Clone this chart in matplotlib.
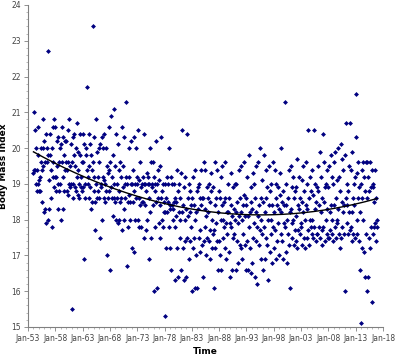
"""
Scatter of monthly Body Mass Index values over time with a quadratic trend line.
"""

import matplotlib

matplotlib.use("Agg")

import matplotlib.dates as mdates
import matplotlib.pyplot as plt
import numpy as np
import pandas as pd

# Monthly BMI values, one row per year (Jan..Dec).
bmi_1950s = [
    19.3, 19.4, 21.0, 20.5, 19.4, 19.0, 20.0, 19.4, 18.8, 19.0, 20.6, 19.8,  # 1954
    19.1, 18.8, 18.8, 19.2, 20.0, 19.6, 18.5, 19.4, 20.8, 20.0, 19.5, 18.2,  # 1955
    20.2, 19.6, 18.3, 17.9, 20.4, 19.6, 20.0, 18.0, 19.8, 22.7, 19.1, 18.3,  # 1956
    19.8, 20.4, 18.6, 19.4, 17.8, 20.0, 20.6, 19.2, 19.6, 18.9, 20.8, 19.2,  # 1957
    20.6, 19.2, 18.8, 19.5, 20.2, 18.3, 19.0, 20.3, 19.6, 18.8, 20.0, 19.0,  # 1958
    20.1, 18.0, 19.6, 20.6, 19.2, 18.3, 20.3, 19.8, 18.8, 19.4, 20.2, 19.6,  # 1959
]
bmi_1960s = [
    20.2, 19.4, 18.8, 20.5, 19.6, 18.7, 19.0, 20.8, 19.5, 18.9, 20.1, 19.0,
    15.5, 19.6, 20.3, 19.0, 18.6, 20.4, 19.8, 18.9, 19.5, 20.0, 18.8, 19.2,
    20.7, 19.4, 18.7, 19.9, 19.0, 18.6, 19.8, 20.4, 18.9, 19.2, 19.6, 18.8,
    20.4, 19.6, 18.9, 16.9, 20.1, 19.0, 18.6, 19.8, 20.0, 21.7, 19.4, 19.2,
    19.0, 20.4, 18.6, 19.5, 18.9, 20.1, 18.3, 19.8, 19.4, 18.5, 23.4, 19.6,
    20.3, 18.8, 19.2, 17.7, 18.5, 20.8, 19.0, 18.6, 19.9, 19.2, 18.8, 20.0,
    19.6, 18.6, 20.1, 17.5, 19.0, 18.9, 20.3, 18.0, 19.2, 20.0, 18.6, 19.1,
    20.4, 18.5, 19.0, 18.8, 20.0, 17.0, 19.5, 18.6, 19.3, 20.6, 18.8, 19.4,
    16.6, 19.6, 18.9, 20.9, 18.6, 19.2, 18.1, 19.8, 18.6, 21.1, 19.0, 18.5,
    19.5, 18.0, 20.4, 18.6, 19.0, 17.9, 20.1, 18.8, 19.4, 18.0, 19.6, 18.5,
]
bmi_1970s = [
    19.2, 18.6, 20.6, 17.7, 18.9, 19.5, 18.3, 20.3, 18.0, 19.0, 18.6, 19.2,
    21.3, 16.7, 19.0, 18.5, 17.8, 20.0, 18.7, 19.2, 18.0, 18.5, 20.2, 19.0,
    19.0, 17.2, 18.5, 19.4, 17.1, 20.3, 18.8, 19.0, 18.0, 18.6, 20.0, 19.2,
    19.0, 18.0, 20.5, 18.6, 19.1, 17.8, 18.4, 19.6, 18.9, 17.8, 19.0, 18.5,
    18.5, 19.2, 17.5, 19.0, 20.4, 18.4, 19.0, 18.8, 17.7, 19.3, 18.0, 19.0,
    19.2, 16.9, 19.0, 18.6, 20.0, 18.2, 19.6, 17.5, 19.0, 18.9, 18.4, 19.6,
    16.0, 19.2, 18.8, 19.0, 17.8, 20.2, 18.5, 19.0, 16.1, 18.6, 19.4, 17.9,
    19.1, 18.4, 17.5, 19.5, 18.6, 20.3, 18.0, 18.8, 17.8, 19.0, 18.5, 18.2,
    18.2, 19.0, 15.3, 18.6, 17.2, 19.2, 18.2, 18.5, 19.0, 17.8, 20.0, 18.4,
    17.2, 18.3, 19.2, 16.6, 18.4, 19.0, 18.0, 18.3, 19.0, 18.5, 17.8, 18.6,
]
bmi_1980s = [
    16.3, 18.5, 18.1, 19.4, 17.2, 16.4, 18.8, 19.0, 18.2, 18.0, 17.5, 18.6,
    16.6, 19.3, 18.2, 20.5, 17.2, 18.4, 16.3, 18.9, 18.0, 17.4, 19.2, 18.3,
    16.4, 20.4, 17.5, 18.6, 18.1, 16.9, 19.0, 18.2, 17.4, 18.8, 18.4, 17.8,
    18.6, 16.0, 17.2, 19.2, 18.4, 17.5, 18.0, 16.1, 19.4, 18.2, 17.0, 18.8,
    16.1, 18.9, 18.3, 17.5, 19.0, 17.7, 18.6, 17.1, 18.4, 19.4, 17.3, 18.6,
    16.4, 18.6, 19.6, 17.4, 18.3, 17.8, 19.4, 18.1, 17.0, 18.9, 17.5, 18.6,
    18.2, 17.4, 19.0, 16.9, 18.5, 17.7, 18.8, 19.3, 17.2, 18.0, 17.6, 18.9,
    16.1, 17.7, 18.4, 19.6, 17.2, 18.6, 17.9, 19.4, 17.4, 18.2, 16.6, 18.8,
    17.4, 18.6, 17.0, 19.2, 18.0, 16.6, 18.4, 19.5, 17.5, 18.0, 17.8, 18.5,
    18.6, 17.2, 19.6, 17.9, 16.9, 18.2, 17.6, 19.0, 18.2, 17.1, 18.6, 17.9,
]
bmi_1990s = [
    16.4, 18.4, 17.8, 19.3, 16.6, 18.1, 17.5, 18.9, 18.3, 17.6, 19.0, 18.0,
    16.6, 18.2, 19.0, 17.4, 18.5, 16.8, 17.9, 19.4, 18.1, 17.3, 18.6, 18.2,
    17.2, 19.5, 18.0, 16.9, 18.4, 17.6, 18.7, 19.6, 17.3, 18.1, 16.6, 18.4,
    18.6, 17.4, 19.2, 16.6, 18.1, 17.8, 19.8, 18.2, 17.2, 18.5, 16.5, 18.9,
    16.8, 18.3, 19.3, 17.5, 17.9, 19.0, 16.4, 18.6, 17.4, 18.2, 19.5, 17.8,
    16.2, 18.1, 19.6, 17.3, 18.4, 20.0, 17.7, 18.6, 16.9, 18.0, 19.1, 17.6,
    16.6, 18.5, 19.8, 17.8, 16.9, 18.2, 19.4, 17.5, 18.6, 18.9, 17.3, 18.0,
    16.3, 18.4, 19.5, 17.1, 18.8, 17.6, 19.0, 18.0, 16.8, 18.4, 19.6, 17.8,
    18.2, 17.2, 19.4, 17.7, 18.6, 16.9, 19.0, 18.4, 17.4, 18.9, 17.9, 18.3,
    17.0, 18.7, 19.3, 17.6, 18.2, 20.0, 17.4, 18.5, 16.9, 18.8, 17.9, 18.4,
]
bmi_2000s = [
    21.3, 17.8, 18.4, 17.1, 19.0, 18.0, 16.8, 18.6, 17.6, 19.4, 17.3, 18.2,
    16.1, 18.3, 19.5, 17.5, 18.9, 17.9, 19.2, 18.0, 17.3, 18.6, 17.7, 18.8,
    17.4, 18.9, 18.1, 19.7, 17.2, 18.4, 17.7, 19.2, 18.3, 17.6, 18.6, 17.9,
    17.8, 19.1, 18.5, 17.3, 19.5, 18.2, 17.5, 18.8, 18.0, 17.2, 19.6, 18.4,
    17.5, 19.0, 18.3, 20.5, 17.7, 18.6, 17.3, 19.2, 18.0, 17.8, 18.8, 17.6,
    18.0, 19.4, 17.5, 18.7, 20.5, 17.8, 18.3, 19.0, 17.4, 18.5, 17.6, 18.9,
    17.6, 18.8, 19.5, 17.8, 18.4, 19.9, 17.5, 18.2, 19.2, 17.7, 18.6, 17.3,
    20.4, 17.8, 18.5, 19.6, 17.4, 18.9, 18.0, 19.0, 17.6, 18.3, 19.4, 17.5,
    18.9, 17.5, 19.5, 18.2, 17.7, 19.8, 18.4, 17.6, 19.2, 18.0, 17.4, 19.0,
    19.6, 18.4, 17.8, 19.9, 18.6, 17.5, 19.1, 18.0, 17.9, 20.0, 18.3, 17.6,
]
bmi_2010s = [
    19.2, 17.2, 18.8, 20.1, 17.5, 18.5, 19.7, 17.8, 18.2, 19.4, 17.6, 18.4,
    16.0, 19.8, 18.6, 20.7, 17.9, 18.4, 19.0, 17.6, 18.8, 19.5, 18.2, 17.7,
    20.7, 17.8, 19.4, 18.2, 17.4, 19.9, 18.6, 17.6, 19.0, 18.4, 17.5, 19.2,
    21.5, 20.3, 18.0, 19.3, 17.6, 18.6, 19.6, 17.4, 18.9, 16.6, 18.2, 19.0,
    15.1, 19.4, 18.6, 17.2, 19.6, 18.0, 17.1, 19.2, 16.4, 18.8, 19.6, 17.6,
    16.0, 19.6, 18.6, 16.4, 19.2, 17.5, 18.8, 19.6, 17.2, 18.9, 17.8, 19.4,
    15.7, 18.9, 17.6, 19.0, 17.8, 18.5, 19.4, 17.9, 18.6, 17.4, 18.0, 17.8,
]
first_month = "1954-01-01"
tick_years = list(range(1953, 2019, 5))

bmi = np.array(bmi_1950s + bmi_1960s + bmi_1970s + bmi_1980s
               + bmi_1990s + bmi_2000s + bmi_2010s)
dates = pd.date_range(first_month, periods=len(bmi), freq="MS")

# quadratic trend fitted in decimal years
years = dates.year + (dates.month - 1) / 12.0
coef = np.polyfit(years, bmi, 2)
fit_years = np.linspace(years.min(), years.max(), 200)
fit_dates = pd.to_datetime(first_month) + pd.to_timedelta(
    (fit_years - years.min()) * 365.25, unit="D")
fit_vals = np.polyval(coef, fit_years)

plt.rcParams["font.family"] = ["DejaVu Sans"]

fig = plt.figure(figsize=(4, 3.55), dpi=100)
ax = fig.add_axes([0.07, 0.079, 0.8875, 0.907])

ax.plot(dates, bmi, linestyle="none", marker="D", markersize=2.5,
        color="#000080", markeredgewidth=0)
ax.plot(fit_dates, fit_vals, color="black", linewidth=1.0)

ax.set_xlim(pd.Timestamp("1953-01-01"), pd.Timestamp("2018-01-01"))
ax.set_ylim(15, 24)

ax.set_xticks([pd.Timestamp(f"{y}-01-01") for y in tick_years])
ax.xaxis.set_minor_locator(mdates.YearLocator(1))
ax.xaxis.set_major_formatter(mdates.DateFormatter("%b-%y"))
ax.set_yticks(np.arange(15, 25, 1))
ax.yaxis.set_minor_locator(plt.MultipleLocator(0.2))

for side in ("top", "right"):
    ax.spines[side].set_visible(False)
for side in ("left", "bottom"):
    ax.spines[side].set_color("#808080")
    ax.spines[side].set_linewidth(0.8)

ax.tick_params(which="major", length=3, width=0.6, color="#808080",
               labelsize=5.5, labelcolor="#444444", pad=2)
ax.tick_params(which="minor", length=1.5, width=0.5, color="#a0a0a0")

ax.set_xlabel("Time", fontsize=6.5, fontweight="bold", labelpad=3)
ax.set_ylabel("Body Mass Index", fontsize=6.5, fontweight="bold")
ax.yaxis.set_label_coords(-0.056, 0.5)

fig.savefig("out.png", dpi=100)
